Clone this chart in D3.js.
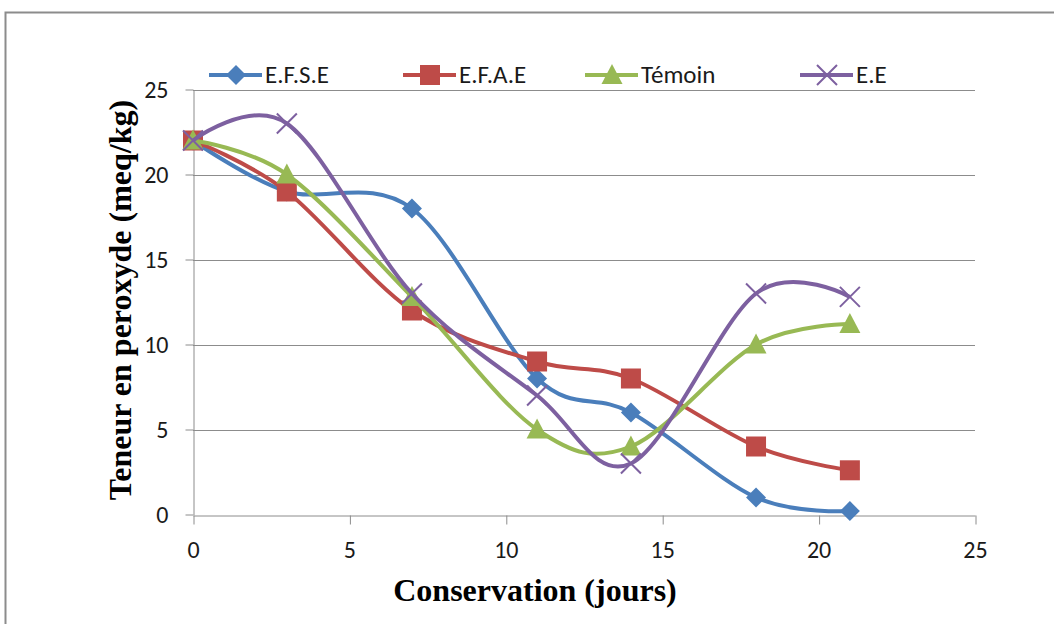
<!DOCTYPE html>
<html>
<head>
<meta charset="utf-8" />
<style>
  html, body { margin: 0; padding: 0; background: #fff; }
  .grid line { stroke: #8c8c8c; stroke-width: 1px; }
  .axis path, .axis line { stroke: #8c8c8c; stroke-width: 1px; }
  .axis text { font-family: Carlito, "Open Sans", sans-serif; font-size: 24px; fill: #1a1a1a; }
  .title { font-family: "Liberation Serif", "Times New Roman", serif; font-weight: bold; font-size: 32px; fill: #000; }
  .legend text { font-family: Carlito, "Open Sans", sans-serif; font-size: 25px; fill: #1a1a1a; }
  .series path.line { fill: none; stroke-width: 4px; }
</style>
</head>
<body>
<div id="vis"></div>
<script src="https://d3js.org/d3.v7.min.js"></script>
<script>
  // ** DATA **
  var days = [0, 3, 7, 11, 14, 18, 21];
  var efse = [22, 19, 18, 8, 6, 1, 0.2];
  var efae = [22, 19, 12, 9, 8, 4, 2.6];
  var temoin = [22, 20, 12.8, 5, 4, 10, 11.2];
  var ee = [22, 23, 13, 7, 3, 13, 12.8];
  var seriesNames = ["E.F.S.E", "E.F.A.E", "Témoin", "E.E"];
  var xTicks = [0, 5, 10, 15, 20, 25];
  var yTicks = [0, 5, 10, 15, 20, 25];

  var series = [
    { name: seriesNames[0], values: efse, color: "#4a7ebb", marker: "diamond" },
    { name: seriesNames[1], values: efae, color: "#be4b48", marker: "square" },
    { name: seriesNames[2], values: temoin, color: "#98b954", marker: "triangle" },
    { name: seriesNames[3], values: ee, color: "#7d60a0", marker: "cross" }
  ];

  // ** SETUP **
  var W = 1054, H = 624;
  var svg = d3.select("#vis").append("svg").attr("width", W).attr("height", H);

  // outer chart frame (runs off the right / bottom edge)
  svg.append("rect")
    .attr("x", 5.5).attr("y", 12.5)
    .attr("width", W + 20).attr("height", H + 20)
    .attr("fill", "#fff").attr("stroke", "#8c8c8c").attr("stroke-width", 2);

  var x = d3.scaleLinear().domain([0, 25]).range([193, 975]);
  var y = d3.scaleLinear().domain([0, 25]).range([514.5, 89.5]);

  // gridlines
  svg.append("g").attr("class", "grid")
    .selectAll("line").data(yTicks.filter(function(d) { return d > 0; }))
    .enter().append("line")
      .attr("x1", x(0)).attr("x2", x(25))
      .attr("y1", function(d) { return Math.round(y(d)) + 0.5; })
      .attr("y2", function(d) { return Math.round(y(d)) + 0.5; });

  // axes
  var xAxis = svg.append("g").attr("class", "axis")
    .attr("transform", "translate(0," + (Math.round(y(0)) + 0.5) + ")")
    .call(d3.axisBottom(x).tickValues(xTicks).tickSize(9).tickSizeOuter(0).tickPadding(16));
  xAxis.selectAll("line").attr("transform", "translate(0.5,0)");

  var yAxis = svg.append("g").attr("class", "axis")
    .attr("transform", "translate(" + (x(0) + 0.5) + ",0)")
    .call(d3.axisLeft(y).tickValues(yTicks).tickSize(8).tickSizeOuter(0).tickPadding(17));

  // axis titles
  svg.append("text").attr("class", "title")
    .attr("x", 535).attr("y", 601)
    .attr("text-anchor", "middle")
    .text("Conservation  (jours)");

  svg.append("text").attr("class", "title")
    .attr("transform", "translate(131,300) rotate(-90)")
    .attr("text-anchor", "middle")
    .text("Teneur en peroxyde (meq/kg)");

  // ** MARKERS **
  function drawMarker(g, type, color) {
    if (type === "diamond") {
      g.append("path").attr("d", "M0,-10L10,0L0,10L-10,0Z").attr("fill", color);
    } else if (type === "square") {
      g.append("rect").attr("x", -10).attr("y", -10).attr("width", 20).attr("height", 20).attr("fill", color);
    } else if (type === "triangle") {
      g.append("path").attr("d", "M0,-11L10.5,9L-10.5,9Z").attr("fill", color);
    } else {
      g.append("path").attr("d", "M-10,-10L10,10M-10,10L10,-10").attr("stroke", color).attr("stroke-width", 2);
    }
  }

  // ** LINES **
  var line = d3.line()
    .x(function(d, i) { return x(days[i]); })
    .y(function(d) { return y(d); })
    .curve(d3.curveCardinal.tension(0));

  var groups = svg.selectAll(".series").data(series)
    .enter().append("g").attr("class", "series");

  groups.append("path").attr("class", "line")
    .attr("stroke", function(d) { return d.color; })
    .attr("d", function(d) { return line(d.values); });

  groups.each(function(s) {
    d3.select(this).selectAll(".pt").data(s.values)
      .enter().append("g").attr("class", "pt")
      .attr("transform", function(d, i) { return "translate(" + x(days[i]) + "," + y(d) + ")"; })
      .each(function() { drawMarker(d3.select(this), s.marker, s.color); });
  });

  // ** LEGEND **
  var legendX = [209, 403, 585, 800];
  var legend = svg.append("g").attr("class", "legend")
    .selectAll("g").data(series)
    .enter().append("g")
      .attr("transform", function(d, i) { return "translate(" + legendX[i] + ",75)"; });

  legend.append("line")
    .attr("x1", 0).attr("x2", 53).attr("y1", 0).attr("y2", 0)
    .attr("stroke", function(d) { return d.color; }).attr("stroke-width", 4);
  legend.each(function(s) {
    var m = d3.select(this).append("g").attr("transform", "translate(27,0)");
    drawMarker(m, s.marker, s.color);
  });
  legend.append("text")
    .attr("x", 56).attr("y", 8)
    .text(function(d) { return d.name; });
</script>
</body>
</html>
